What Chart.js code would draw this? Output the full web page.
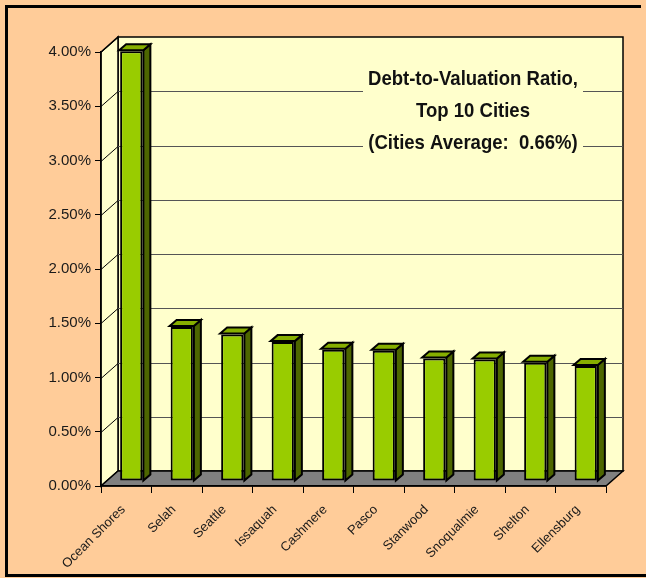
<!DOCTYPE html>
<html><head><meta charset="utf-8">
<script src="https://cdn.jsdelivr.net/npm/chart.js@4.4.0/dist/chart.umd.min.js"></script>
<style>html,body{margin:0;padding:0;background:#FFCC99;} canvas{display:block;}</style>
</head><body>
<canvas id="c" width="646" height="578"></canvas>
<script>
// ---- data ----
const cities = ['Ocean Shores','Selah','Seattle','Issaquah','Cashmere','Pasco','Stanwood','Snoqualmie','Shelton','Ellensburg'];
const ratios = [3.96, 1.42, 1.35, 1.28, 1.21, 1.20, 1.13, 1.12, 1.09, 1.06];
const yTicks = [0, 0.5, 1, 1.5, 2, 2.5, 3, 3.5, 4];
const titleLines = ['Debt-to-Valuation Ratio,', 'Top 10 Cities', '(Cities Average:  0.66%)'];

// ---- styles ----
const PEACH = '#FFCC99', WALL = '#FFFFCC', FLOOR = '#808080';
const BAR_FRONT = '#99CC00', BAR_SIDE = '#4D6600', BAR_TOP = '#86AE00';
const DEPTH = {x: 17, y: -15};
const BAR_SHIFT = {x: 5, y: -5};
const BAR_DEPTH = {x: 7, y: -6};

function poly(ctx, pts, fill, stroke, lw) {
  ctx.beginPath();
  ctx.moveTo(pts[0][0], pts[0][1]);
  for (let i = 1; i < pts.length; i++) ctx.lineTo(pts[i][0], pts[i][1]);
  ctx.closePath();
  if (fill) { ctx.fillStyle = fill; ctx.fill(); }
  if (stroke) { ctx.strokeStyle = stroke; ctx.lineWidth = lw || 1; ctx.stroke(); }
}

const threeD = {
  id: 'threeD',
  beforeDraw(chart) {
    const ctx = chart.ctx, a = chart.chartArea, ys = chart.scales.y;
    const W = chart.width, H = chart.height;
    ctx.save();
    ctx.fillStyle = PEACH; ctx.fillRect(0, 0, W, H);
    // outer frame (left, top, bottom)
    ctx.strokeStyle = '#000'; ctx.lineWidth = 3;
    ctx.beginPath();
    ctx.moveTo(641, 6.5); ctx.lineTo(6.5, 6.5); ctx.lineTo(6.5, 575.5); ctx.lineTo(646, 575.5);
    ctx.stroke();
    const L = a.left, R = a.right, T = a.top, B = a.bottom, dx = DEPTH.x, dy = DEPTH.y;
    ctx.lineJoin = 'miter';
    // back wall
    poly(ctx, [[L+dx, T+dy], [R+dx, T+dy], [R+dx, B+dy], [L+dx, B+dy]], WALL, '#000', 1.5);
    // left wall
    poly(ctx, [[L, T], [L+dx, T+dy], [L+dx, B+dy], [L, B]], WALL, '#000', 1.5);
    // floor
    poly(ctx, [[L, B], [R, B], [R+dx, B+dy], [L+dx, B+dy]], FLOOR, '#000', 1.5);
    // grid lines
    yTicks.forEach(v => {
      if (v === 0) return;
      const py = Math.round(ys.getPixelForValue(v)) + 0.5;
      ctx.lineWidth = 1;
      ctx.strokeStyle = '#000';
      ctx.beginPath(); ctx.moveTo(L, py); ctx.lineTo(L+dx, py+dy); ctx.stroke();
      if (v < 4) {
        ctx.strokeStyle = '#555';
        ctx.beginPath(); ctx.moveTo(L+dx, py+dy); ctx.lineTo(R+dx, py+dy); ctx.stroke();
      }
    });
    // title box
    ctx.fillStyle = WALL;
    ctx.fillRect(363, 64, 220, 96);
    ctx.fillStyle = '#111';
    ctx.font = 'bold 21px "Liberation Sans Narrow", "Arial Narrow", "Liberation Sans", sans-serif';
    const w0 = ctx.measureText(titleLines[0]).width;
    const sx = Math.min(1, 210 / w0);
    ctx.textAlign = 'center'; ctx.textBaseline = 'alphabetic';
    const cx = 473, base = [85, 117, 149];
    titleLines.forEach((t, i) => {
      ctx.save(); ctx.translate(cx, base[i]); ctx.scale(sx, 1);
      ctx.fillText(t, 0, 0);
      ctx.restore();
    });
    ctx.restore();
  },
  beforeDatasetsDraw(chart) {
    chart.ctx.save();
    chart.ctx.translate(BAR_SHIFT.x, BAR_SHIFT.y);
  },
  afterDatasetsDraw(chart) {
    const ctx = chart.ctx;
    const meta = chart.getDatasetMeta(0);
    ctx.lineJoin = 'miter';
    meta.data.forEach(el => {
      const p = el.getProps(['x', 'y', 'base', 'width'], true);
      const l = p.x - p.width / 2 - 1, r = p.x + p.width / 2 + 1;
      const top = p.y - 1, bot = p.base;
      const ddx = BAR_DEPTH.x, ddy = BAR_DEPTH.y;
      poly(ctx, [[r, top], [r+ddx, top+ddy], [r+ddx, bot+ddy], [r, bot]], BAR_SIDE, '#000', 2);
      poly(ctx, [[l, top], [l+ddx, top+ddy], [r+ddx, top+ddy], [r, top]], BAR_TOP, '#000', 2);
    });
    ctx.restore();
  }
};

new Chart(document.getElementById('c'), {
  type: 'bar',
  data: {
    labels: cities,
    datasets: [{
      data: ratios,
      backgroundColor: BAR_FRONT,
      borderColor: '#000',
      borderWidth: 2,
      borderSkipped: false,
      barPercentage: 0.44,
      categoryPercentage: 1,
      clip: false
    }]
  },
  options: {
    responsive: false,
    devicePixelRatio: 1,
    animation: false,
    layout: {padding: {top: 52, right: 40, left: 0, bottom: 0}},
    plugins: {legend: {display: false}, tooltip: {enabled: false}, title: {display: false}},
    scales: {
      x: {
        grid: {display: true, drawOnChartArea: false, drawTicks: true, tickLength: 7, color: '#000', offset: true, lineWidth: 1},
        border: {display: true, color: '#000', width: 1.5},
        ticks: {minRotation: 45, maxRotation: 45, autoSkip: false, color: '#1a1a1a',
                font: {family: 'Liberation Sans', size: 13}, padding: 9, labelOffset: -3},
        afterFit(s) { s.height = 92; }
      },
      y: {
        min: 0, max: 4,
        afterBuildTicks(s) { s.ticks = yTicks.map(v => ({value: v})); },
        ticks: {callback: v => Number(v).toFixed(2) + '%', color: '#1a1a1a',
                font: {family: 'Liberation Sans', size: 15}, padding: 4},
        grid: {drawOnChartArea: false, tickLength: 6, color: '#000'},
        border: {display: true, color: '#000', width: 1.5},
        afterFit(s) { s.width = 101; }
      }
    }
  },
  plugins: [threeD]
});
</script>
</body></html>
